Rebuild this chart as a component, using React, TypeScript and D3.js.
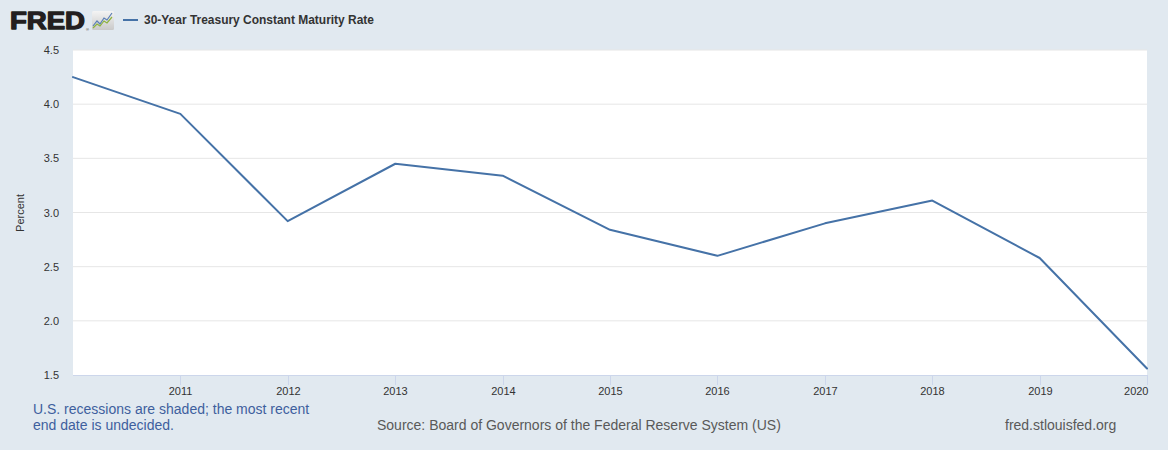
import React from "react";
import * as d3 from "d3";

const years = [2010, 2011, 2012, 2013, 2014, 2015, 2016, 2017, 2018, 2019, 2020];
const rates = [4.25, 3.91, 2.92, 3.45, 3.34, 2.84, 2.60, 2.90, 3.11, 2.58, 1.56];
const yTicks = [1.5, 2.0, 2.5, 3.0, 3.5, 4.0, 4.5];
const xTickYears = [2011, 2012, 2013, 2014, 2015, 2016, 2017, 2018, 2019, 2020];
const seriesName = "30-Year Treasury Constant Maturity Rate";

const W = 1168, H = 450;
const left = 73, right = 1147, top = 50, bottom = 375;
const font = "'Liberation Sans', Arial, sans-serif";

export default function App() {
  const x = d3.scaleTime()
    .domain([new Date(years[0], 0, 1), new Date(years[years.length - 1], 0, 1)])
    .range([left, right]);
  const y = d3.scaleLinear().domain([1.5, 4.5]).range([bottom, top]);
  const data = years.map((yr, i) => ({ d: new Date(yr, 0, 1), v: rates[i] }));
  const line = d3.line<{ d: Date; v: number }>().x(p => x(p.d)).y(p => y(p.v));

  return (
    <svg width={W} height={H} style={{ position: "absolute", left: 0, top: 0, display: "block" }}>
      <rect x={0} y={0} width={W} height={H} fill="#e1e9f0" />
      {/* logo */}
      <text x={10} y={29} fontFamily={font} fontWeight={900} fontSize={24} fill="#231f20" stroke="#231f20" strokeWidth={1.3} strokeLinejoin="round" textLength={75} lengthAdjust="spacingAndGlyphs">FRED</text>
      <text x={86} y={31} fontFamily={font} fontSize={4} fill="#231f20">®</text>
      <defs>
        <linearGradient id="lg" x1="0" y1="0" x2="0" y2="1">
          <stop offset="0" stopColor="#f4f4f4" />
          <stop offset="1" stopColor="#c9c9c9" />
        </linearGradient>
      </defs>
      <rect x={92} y={11} width={22} height={19} rx={1.5} fill="url(#lg)" />
      <path d="M93,26 L97,21 L100,24 L104,18 L107,20 L112,13" fill="none" stroke="#5b7fb5" strokeWidth={1.2} />
      <path d="M93,28 L97,24 L100,26 L104,21 L107,23 L112,17" fill="none" stroke="#8db33e" strokeWidth={1.2} />
      {/* legend */}
      <line x1={123} x2={138} y1={20} y2={20} stroke="#4572a7" strokeWidth={2} />
      <text x={144} y={24} fontFamily={font} fontWeight="bold" fontSize={12} fill="#333" textLength={230} lengthAdjust="spacingAndGlyphs">{seriesName}</text>
      {/* plot background */}
      <rect x={left} y={top} width={right - left} height={bottom - top} fill="#ffffff" />
      {yTicks.map(t => (
        <g key={t}>
          {t !== 1.5 && <line x1={left} x2={right} y1={y(t)} y2={y(t)} stroke="#e6e6e6" strokeWidth={1} />}
          <text x={59} y={y(t) + 4} textAnchor="end" fontFamily={font} fontSize={11} fill="#333">{t.toFixed(1)}</text>
        </g>
      ))}
      <line x1={left} x2={right + 1} y1={bottom + 0.5} y2={bottom + 0.5} stroke="#ccd6eb" strokeWidth={1} />
      {xTickYears.map(yr => {
        const px = Math.round(x(new Date(yr, 0, 1))) + 0.5;
        const isLast = yr === xTickYears[xTickYears.length - 1];
        return (
          <g key={yr}>
            <line x1={px} x2={px} y1={bottom} y2={bottom + 10} stroke="#ccd6eb" strokeWidth={1} />
            <text x={isLast ? px + 1 : px} y={395} textAnchor={isLast ? "end" : "middle"} fontFamily={font} fontSize={11} fill="#333">{yr}</text>
          </g>
        );
      })}
      <path d={line(data) || ""} fill="none" stroke="#4572a7" strokeWidth={2} strokeLinejoin="round" strokeLinecap="round" />
      <text transform="translate(24,213) rotate(-90)" textAnchor="middle" fontFamily={font} fontSize={11} fill="#333">Percent</text>
      {/* footer */}
      <text x={33} y={414} fontFamily={font} fontSize={14} fill="#3e5f9e">U.S. recessions are shaded; the most recent</text>
      <text x={33} y={430} fontFamily={font} fontSize={14} fill="#3e5f9e">end date is undecided.</text>
      <text x={377} y={430} fontFamily={font} fontSize={14} fill="#595959">Source: Board of Governors of the Federal Reserve System (US)</text>
      <text x={1005} y={430} fontFamily={font} fontSize={14} fill="#595959">fred.stlouisfed.org</text>
    </svg>
  );
}
